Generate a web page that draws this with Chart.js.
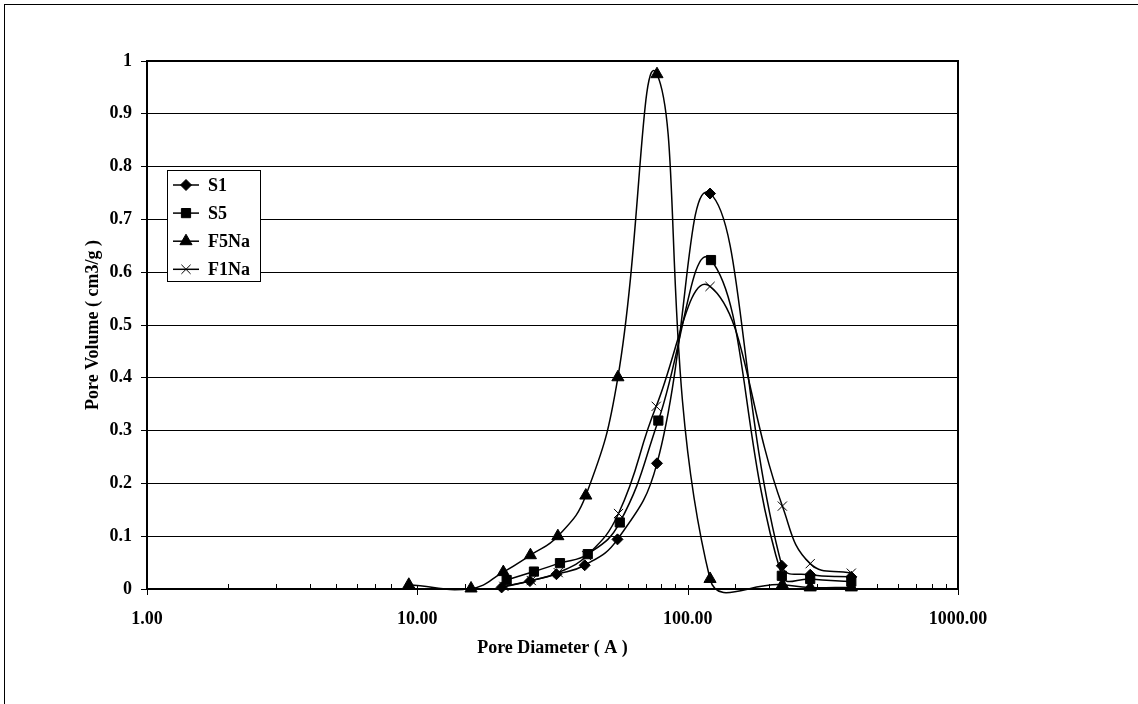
<!DOCTYPE html>
<html><head><meta charset="utf-8">
<script src="https://cdn.jsdelivr.net/npm/chart.js@4.4.0/dist/chart.umd.min.js"></script>
<style>html,body{margin:0;padding:0;background:#fff;}#wrap{position:relative;width:1138px;height:704px;}</style>
</head><body><div id="wrap"><canvas id="c" width="1138" height="704"></canvas></div>
<script>
// ---- data ----
const seriesNames = ['S1', 'S5', 'F5Na', 'F1Na'];
const s1X = [20.5, 26.1, 32.7, 41.6, 55.0, 77.0, 121, 223, 284, 403];
const s1Y = [0.003, 0.015, 0.028, 0.045, 0.094, 0.238, 0.749, 0.044, 0.027, 0.023];
const s5X = [21.4, 27.0, 33.7, 42.7, 56.1, 77.9, 122, 223, 284, 403];
const s5Y = [0.017, 0.033, 0.049, 0.066, 0.126, 0.319, 0.623, 0.025, 0.019, 0.014];
const f5X = [9.3, 15.8, 20.8, 26.2, 33.1, 42.0, 55.2, 77.0, 121, 224, 284, 403];
const f5Y = [0.008, 0.001, 0.032, 0.064, 0.100, 0.177, 0.401, 0.975, 0.019, 0.008, 0.003, 0.003];
const f1X = [20.9, 26.4, 33.2, 42.3, 55.5, 76.5, 121, 224, 284, 403];
const f1Y = [0.005, 0.016, 0.031, 0.063, 0.143, 0.346, 0.573, 0.157, 0.048, 0.030];
const yTickValues = [0, 0.1, 0.2, 0.3, 0.4, 0.5, 0.6, 0.7, 0.8, 0.9, 1];
const xTickLabels = {1: '1.00', 10: '10.00', 100: '100.00', 1000: '1000.00'};
const xTitle = 'Pore Diameter ( A )';
const yTitle = 'Pore Volume ( cm3/g )';

// ---- styles ----
const FONT = 'bold 18px "Liberation Serif", "Times New Roman", serif';
const pointStyles = ['rectRot', 'rect', 'triangle', 'crossRot'];
const pointRadii = [5.5, 6.5, 7, 6.5];

function pts(xs, ys) { return xs.map((x, i) => ({x: x, y: ys[i]})); }
const xsAll = [s1X, s5X, f5X, f1X];
const ysAll = [s1Y, s5Y, f5Y, f1Y];

const datasets = seriesNames.map((name, i) => ({
  label: name,
  data: pts(xsAll[i], ysAll[i]),
  showLine: true,
  borderColor: '#000',
  borderWidth: 1.5,
  tension: 0.45,
  pointStyle: pointStyles[i],
  pointRadius: pointRadii[i],
  pointHoverRadius: pointRadii[i],
  pointBackgroundColor: '#000',
  pointBorderColor: '#000',
  pointBorderWidth: 1,
  clip: false
}));

const deco = {
  id: 'deco',
  beforeDraw(chart) {
    const ctx = chart.ctx;
    ctx.save();
    ctx.fillStyle = '#fff';
    ctx.fillRect(0, 0, chart.width, chart.height);
    ctx.strokeStyle = '#000';
    ctx.lineWidth = 1;
    ctx.strokeRect(4.5, 4.5, 2000, 2000);
    ctx.restore();
  },
  beforeDatasetsDraw(chart) {
    const ctx = chart.ctx, a = chart.chartArea, xs = chart.scales.x;
    ctx.save();
    ctx.strokeStyle = '#000';
    ctx.lineWidth = 2;
    ctx.strokeRect(a.left, a.top, a.right - a.left, a.bottom - a.top);
    ctx.lineWidth = 1;
    xs.ticks.forEach(t => {
      const px = Math.round(xs.getPixelForValue(t.value)) + 0.5;
      const lg = Math.log10(t.value);
      const major = Math.abs(lg - Math.round(lg)) < 1e-9;
      ctx.beginPath();
      if (major) { ctx.moveTo(px, a.bottom - 4); ctx.lineTo(px, a.bottom + 6); }
      else { ctx.moveTo(px, a.bottom - 5); ctx.lineTo(px, a.bottom); }
      ctx.stroke();
    });
    ctx.restore();
  },
  afterDraw(chart) {
    const ctx = chart.ctx, a = chart.chartArea;
    ctx.save();
    ctx.fillStyle = '#000';
    ctx.font = FONT;
    ctx.textAlign = 'center';
    ctx.textBaseline = 'middle';
    ctx.fillText(xTitle, (a.left + a.right) / 2, 648);
    ctx.save();
    ctx.translate(93, (a.top + a.bottom) / 2);
    ctx.rotate(-Math.PI / 2);
    ctx.fillText(yTitle, 0, 0);
    ctx.restore();
    // legend
    const bx = 167.5, by = 170.5, bw = 93, bh = 111;
    ctx.fillStyle = '#fff';
    ctx.fillRect(bx, by, bw, bh);
    ctx.strokeStyle = '#000';
    ctx.lineWidth = 1;
    ctx.strokeRect(bx, by, bw, bh);
    seriesNames.forEach((name, i) => {
      const y = 185 + i * 28.1;
      ctx.strokeStyle = '#000';
      ctx.lineWidth = 1.5;
      ctx.beginPath(); ctx.moveTo(173, y); ctx.lineTo(199, y); ctx.stroke();
      ctx.fillStyle = '#000';
      ctx.lineWidth = 1;
      Chart.helpers.drawPoint(ctx, {pointStyle: pointStyles[i], radius: pointRadii[i], rotation: 0, borderWidth: 1}, 186, y);
      ctx.fillStyle = '#000';
      ctx.font = FONT;
      ctx.textAlign = 'left';
      ctx.textBaseline = 'middle';
      ctx.fillText(name, 208, y + 1);
    });
    ctx.restore();
  }
};

new Chart(document.getElementById('c'), {
  type: 'scatter',
  data: {datasets: datasets},
  plugins: [deco],
  options: {
    responsive: false,
    animation: false,
    devicePixelRatio: 1,
    layout: {padding: {left: 0, top: 61, right: 180, bottom: 0}},
    elements: {line: {capBezierPoints: false}},
    plugins: {legend: {display: false}, tooltip: {enabled: false}},
    scales: {
      x: {
        type: 'logarithmic',
        min: 1, max: 1000,
        afterFit: s => { s.height = 115; },
        grid: {display: true, drawOnChartArea: false, drawTicks: false},
        border: {display: true, color: '#000', width: 2},
        ticks: {
          autoSkip: false, maxRotation: 0, minRotation: 0,
          color: '#000', padding: 20,
          font: {family: '"Liberation Serif", "Times New Roman", serif', size: 18, weight: 'bold'},
          callback: v => xTickLabels[v] || ''
        }
      },
      y: {
        min: 0, max: 1,
        afterFit: s => { s.width = 147; },
        afterBuildTicks: s => { s.ticks = yTickValues.map(v => ({value: v})); },
        grid: {color: '#000', lineWidth: 1, tickLength: 6, drawTicks: true},
        border: {display: true, color: '#000', width: 2},
        ticks: {
          color: '#000', padding: 9,
          font: {family: '"Liberation Serif", "Times New Roman", serif', size: 18, weight: 'bold'},
          callback: v => String(+v.toFixed(1))
        }
      }
    }
  }
});
</script></body></html>
